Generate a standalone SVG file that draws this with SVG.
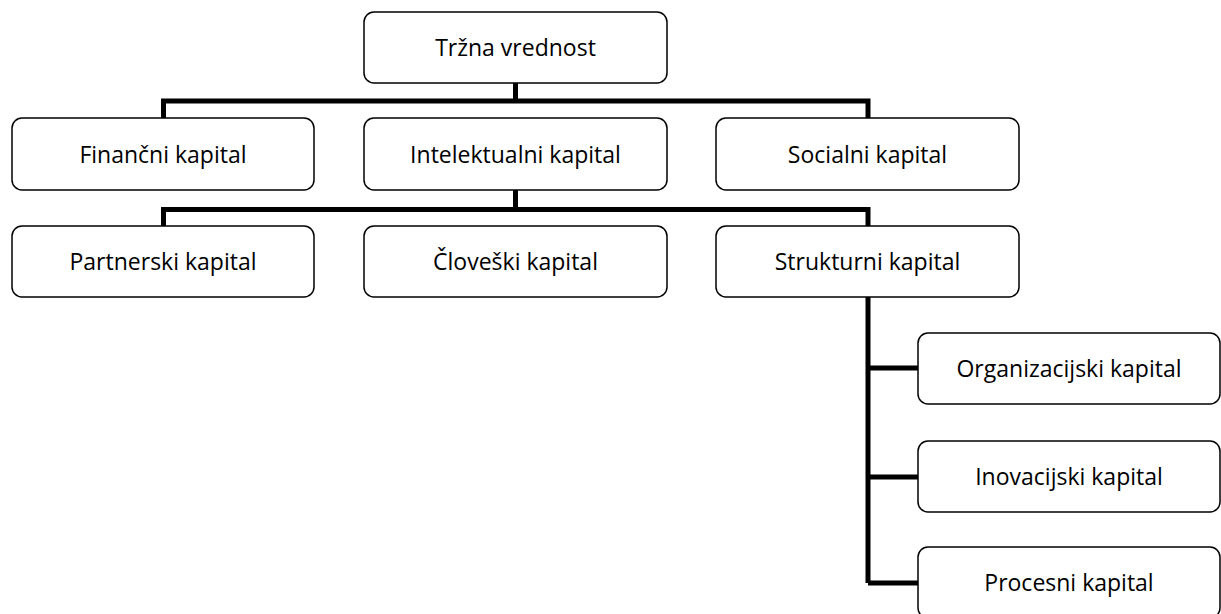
<svg xmlns="http://www.w3.org/2000/svg" width="1221" height="614" viewBox="0 0 1221 614">
<style>
.box{fill:#fff;stroke:#000;stroke-width:1.5}
.t{font-family:"Open Sans","Liberation Sans",sans-serif;font-size:23px;fill:#000;text-anchor:middle}
.c{fill:none;stroke:#000;stroke-width:5}
</style>
<rect width="1221" height="614" fill="#fff"/>
<g id="connectors">
<path class="c" d="M515.5 83V101 M163.5 118V101H868V118"/>
<path class="c" d="M515.5 190V209.5 M163.5 226V209.5H868V226"/>
<path class="c" d="M868 297V583 M868 368H918 M868 477H918 M868 583H918"/>
</g>
<g id="n-trzna"><rect class="box" x="364" y="12" width="303" height="71" rx="10"/><text class="t" x="515.5" y="56">Tržna vrednost</text></g>
<g id="n-financni"><rect class="box" x="12" y="118" width="302" height="72" rx="10"/><text class="t" x="163" y="162.5">Finančni kapital</text></g>
<g id="n-intelektualni"><rect class="box" x="364" y="118" width="303" height="72" rx="10"/><text class="t" x="515.5" y="162.5">Intelektualni kapital</text></g>
<g id="n-socialni"><rect class="box" x="716" y="118" width="303" height="72" rx="10"/><text class="t" x="867.5" y="162.5">Socialni kapital</text></g>
<g id="n-partnerski"><rect class="box" x="12" y="226" width="302" height="71" rx="10"/><text class="t" x="163" y="270">Partnerski kapital</text></g>
<g id="n-cloveski"><rect class="box" x="364" y="226" width="303" height="71" rx="10"/><text class="t" x="515.5" y="270">Človeški kapital</text></g>
<g id="n-strukturni"><rect class="box" x="716" y="226" width="303" height="71" rx="10"/><text class="t" x="867.5" y="270">Strukturni kapital</text></g>
<g id="n-organizacijski"><rect class="box" x="918" y="333" width="302" height="71" rx="10"/><text class="t" x="1069" y="377">Organizacijski kapital</text></g>
<g id="n-inovacijski"><rect class="box" x="918" y="441" width="302" height="71" rx="10"/><text class="t" x="1069" y="485">Inovacijski kapital</text></g>
<g id="n-procesni"><rect class="box" x="918" y="547" width="302" height="71" rx="10"/><text class="t" x="1069" y="591">Procesni kapital</text></g>
</svg>
